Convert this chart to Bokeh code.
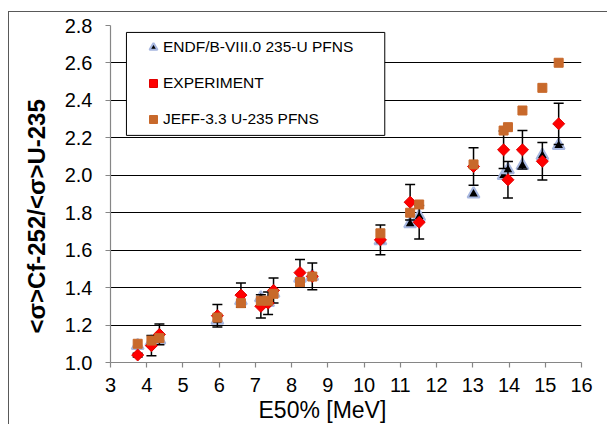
import math
from bokeh.plotting import figure
from bokeh.models import (ColumnDataSource, Title, BoxAnnotation, Legend, LegendItem,
                          FixedTicker, PrintfTickFormatter)
from bokeh.embed import file_html
from bokeh.resources import INLINE

# ---- data ----
e50 = [3.75, 4.13, 4.35, 5.95, 6.60, 7.15, 7.35, 7.50, 8.23, 8.57,
       10.45, 11.27, 11.52, 13.02, 13.85, 13.97, 14.37, 14.92, 15.37]
experiment = [1.04, 1.09, 1.15, 1.25, 1.36, 1.30, 1.317, 1.385, 1.48, 1.46,
              1.655, 1.856, 1.749, 2.047, 2.136, 1.976, 2.136, 2.075, 2.275]
exp_err = [0.01, 0.054, 0.055, 0.06, 0.065, 0.062, 0.06, 0.067, 0.07, 0.072,
           0.08, 0.095, 0.09, 0.10, 0.10, 0.097, 0.103, 0.10, 0.11]
endf = [1.09, 1.11, 1.12, 1.225, 1.33, 1.345, 1.32, 1.37, 1.45, 1.46,
        1.65, 1.741, 1.78, 1.90, 1.999, 2.03, 2.052, 2.106, 2.159]
jeff = [1.10, 1.117, 1.13, 1.24, 1.317, 1.33, 1.33, 1.367, 1.43, 1.459,
        1.69, 1.80, 1.844, 2.058, 2.239, 2.257, 2.346, 2.467, 2.601]
x_ticks = list(range(3, 17))
y_ticks = [1.0, 1.2, 1.4, 1.6, 1.8, 2.0, 2.2, 2.4, 2.6, 2.8]
series_names = ["ENDF/B-VIII.0 235-U PFNS", "EXPERIMENT", "JEFF-3.3 U-235 PFNS"]
x_title = "E50% [MeV]"
y_title = "<\u03c3>Cf-252/<\u03c3>U-235"

FONT = "Liberation Sans"

src = ColumnDataSource(dict(
    x=e50, exp=experiment, endf=endf, jeff=jeff,
    lo=[v - e for v, e in zip(experiment, exp_err)],
    hi=[v + e for v, e in zip(experiment, exp_err)],
))

p = figure(width=599, height=413, x_range=(3, 16), y_range=(1.0, 2.8),
           output_backend="svg", toolbar_location=None,
           min_border_left=101, min_border_right=27, min_border_top=13,
           min_border_bottom=63)
p.styles = {"border-left": "1px solid #595959", "border-top": "1px solid #595959",
            "margin-left": "8px", "margin-top": "11px"}
p.outline_line_color = None
p.background_fill_color = "white"
p.border_fill_color = "white"

# axes
for ax in (p.xaxis[0], p.yaxis[0]):
    ax.axis_line_color = "#868686"
    ax.axis_line_width = 1.2
    ax.major_tick_line_color = "#868686"
    ax.major_tick_line_width = 1.2
    ax.major_tick_out = 5
    ax.major_tick_in = 0
    ax.minor_tick_line_color = None
    ax.major_label_text_font = FONT
    ax.major_label_text_font_size = "20px"
    ax.major_label_text_color = "black"
p.xaxis.ticker = FixedTicker(ticks=x_ticks)
p.yaxis.ticker = FixedTicker(ticks=y_ticks)
p.yaxis.formatter = PrintfTickFormatter(format="%.1f")
p.yaxis.major_label_standoff = 13
p.xaxis.major_label_standoff = 10

p.xgrid.visible = False
p.ygrid.ticker = FixedTicker(ticks=y_ticks)
p.ygrid.grid_line_color = "black"
p.ygrid.grid_line_width = 1

# markers: triangles at bottom, error bars, diamonds, squares on top
r_endf = p.scatter("x", "endf", source=src, marker="triangle", size=12,
                   fill_color="black", line_color="#a7b7e0", line_width=2)
p.segment("x", "lo", "x", "hi", source=src, line_color="black", line_width=1.5)
p.scatter("x", "hi", source=src, marker="dash", size=10, line_color="black", line_width=1.5)
p.scatter("x", "lo", source=src, marker="dash", size=10, line_color="black", line_width=1.5)
r_exp = p.scatter("x", "exp", source=src, marker="square", angle=math.pi / 4, size=8.5,
                  fill_color="#ff0000", line_color="#e00000", line_width=1)
r_jeff = p.scatter("x", "jeff", source=src, marker="square", size=9,
                   fill_color="#c8692b", line_color="#c8692b", line_width=1)

# legend box and legend
box = BoxAnnotation(left=3.44, right=10.57, top=2.763, bottom=2.213,
                    fill_color="white", fill_alpha=1.0, line_color="black",
                    line_width=1, line_alpha=1.0)
p.add_layout(box)
legend = Legend(items=[LegendItem(label=series_names[0], renderers=[r_endf]),
                       LegendItem(label=series_names[1], renderers=[r_exp]),
                       LegendItem(label=series_names[2], renderers=[r_jeff])],
                location=(33, 233), orientation="vertical",
                padding=0, spacing=16, margin=0,
                glyph_width=20, glyph_height=20, label_height=20,
                label_standoff=-1,
                label_text_font=FONT, label_text_font_size="15.5px",
                label_text_color="black",
                background_fill_alpha=0, border_line_alpha=0)
p.add_layout(legend)

# axis titles, shifted toward the centre of the chart area
p.add_layout(Title(text=y_title, align="left", offset=29, standoff=20,
                   vertical_align="top",
                   text_font=FONT, text_font_size="24px", text_font_style="bold",
                   text_color="black"), "left")
p.add_layout(Title(text=x_title, align="left", offset=148, standoff=0,
                   text_font=FONT, text_font_size="23px", text_font_style="normal",
                   text_color="black"), "below")

open("out.html", "w").write(file_html(p, INLINE))
